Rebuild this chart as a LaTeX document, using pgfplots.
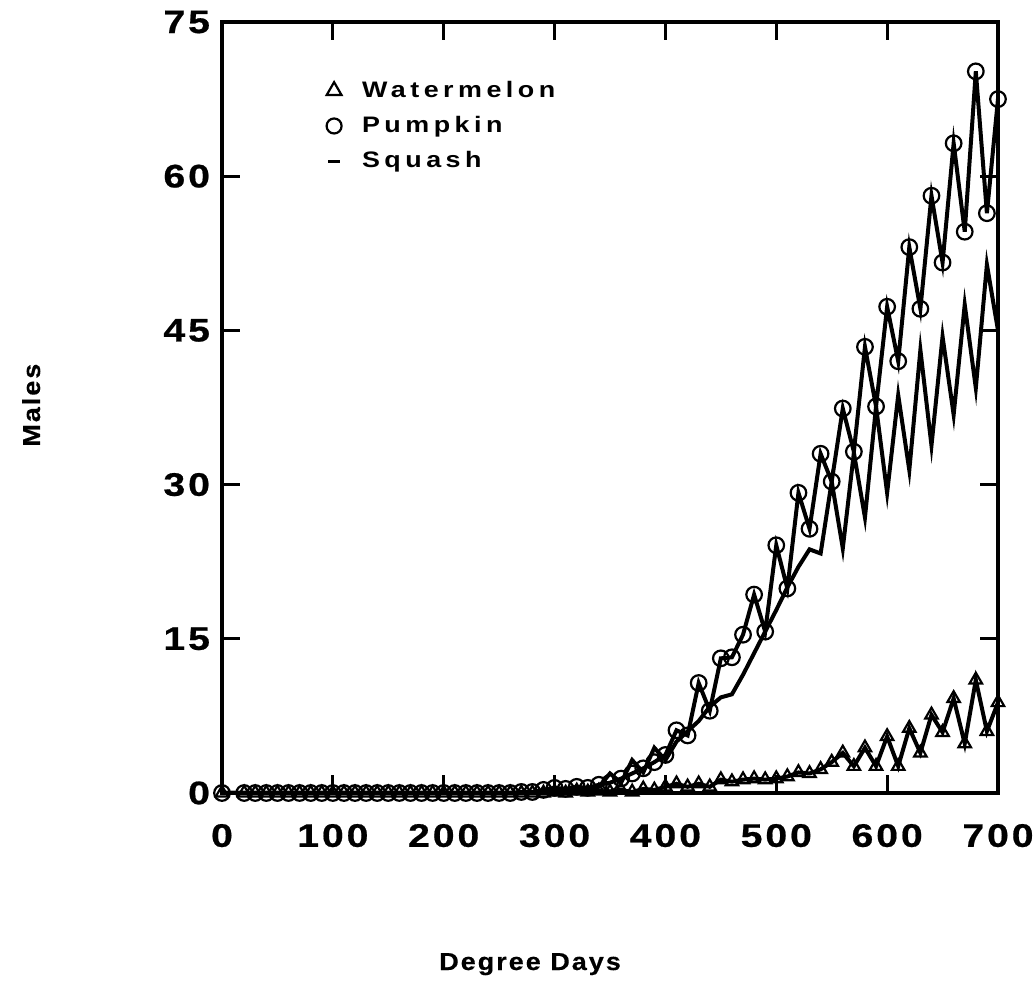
\documentclass[border=0pt]{standalone}
\usepackage{fontspec}
\usepackage{pgfplots}
\usepackage{pgfplotstable}
\pgfplotsset{compat=1.18}

% wide, spaced-out bold sans faces
\newfontfamily\tickfont{Liberation Sans}[FakeStretch=1.2,LetterSpace=9,FakeBold=0.6]
\newfontfamily\legfont{Liberation Sans}[FakeStretch=1.2,LetterSpace=20]
\newfontfamily\labfont{Liberation Sans}[FakeStretch=1.1,LetterSpace=8,FakeBold=0.4]

% degree days, males caught per host
\pgfplotstableread{
dd  wm    pk    sq
0   0     0     0
20  0     0     0
30  0     0     0
40  0     0     0
50  0     0     0
60  0     0     0
70  0     0     0
80  0     0     0
90  0     0     0
100 0     0     0
110 0     0     0
120 0     0     0
130 0     0     0
140 0     0     0
150 0     0     0
160 0     0     0
170 0     0     0
180 0     0     0
190 0     0     0
200 0     0     0
210 0     0     0
220 0     0     0
230 0     0     0
240 0     0     0
250 0     0     0
260 0     0     0
270 0     0.1   0
280 0     0.1   0
290 0     0.3   0.1
300 0.1   0.5   0.1
310 0.0   0.4   0.2
320 0.2   0.6   0.3
330 0.1   0.5   0.3
340 0.2   0.8   0.6
350 0.1   1.0   1.9
360 0.3   1.4   1.0
370 0.1   1.9   3.2
380 0.4   2.4   2.0
390 0.3   3.0   4.4
400 0.6   3.7   3.2
410 0.9   6.1   5.0
420 0.6   5.6   6.0
430 0.9   10.7  7.0
440 0.6   8.0   8.4
450 1.3   13.1  9.3
460 1.1   13.2  9.6
470 1.3   15.4  11.5
480 1.4   19.3  13.6
490 1.3   15.7  15.7
500 1.4   24.1  17.8
510 1.6   19.9  20.0
520 2.0   29.2  22.0
530 1.9   25.7  23.7
540 2.3   33.0  23.3
550 3.0   30.3  30.3
560 3.9   37.4  23.8
570 2.6   33.2  33.1
580 4.4   43.4  26.8
590 2.6   37.6  37.6
600 5.5   47.3  29.2
610 2.6   42.0  38.7
620 6.3   53.1  31.4
630 3.9   47.1  43.1
640 7.6   58.1  33.8
650 5.9   51.6  44.4
660 9.2   63.2  36.8
670 4.8   54.6  47.5
680 11.0  70.2  39.4
690 6.0   56.4  51.4
700 8.8   67.5  45.0
}\males

\begin{document}
\begin{tikzpicture}
\useasboundingbox (-111pt,-98.5pt) rectangle (406pt,396.5pt);
\begin{axis}[
  at={(0pt,0pt)}, anchor=south west,
  scale only axis,
  width=388pt, height=385.5pt,
  xmin=0, xmax=700, ymin=0, ymax=75,
  xtick={0,100,...,700},
  ytick={0,15,...,75},
  tick align=inside,
  major tick length=9pt,
  every tick/.style={black, line width=1.5pt},
  axis line style={line width=2.2pt},
  clip=false,
  /pgf/number format/assume math mode=true,
  xticklabel style={font=\tickfont\bfseries\fontsize{16.3}{19}\selectfont, yshift=-12pt},
  yticklabel style={font=\tickfont\bfseries\fontsize{16.3}{19}\selectfont, xshift=-2.5pt},
  xlabel={Degree Days},
  ylabel={Males},
  every axis x label/.style={at={(axis description cs:0.397,0)}, anchor=base, yshift=-88.5pt,
    font=\labfont\bfseries\fontsize{12.3}{14}\selectfont},
  every axis y label/.style={at={(axis description cs:0,0.503)}, xshift=-91pt, rotate=90, anchor=base,
    font=\labfont\bfseries\fontsize{12.3}{14}\selectfont},
  legend cell align=left,
  legend style={draw=none, fill=none, inner sep=0pt,
    at={(axis description cs:0.1285,0.929)}, anchor=north west,
    row sep=4pt,
    font=\legfont\bfseries\fontsize{11.2}{13}\selectfont},
]
\addplot[black, line width=2pt, mark=triangle, mark size=3.6pt,
  mark options={solid, line width=1.1pt},
  legend image code/.code={\path (0pt,0pt) (16pt,0pt);
    \draw[black, line width=0.9pt, mark=triangle, mark size=4.3pt] plot coordinates {(5pt,0pt)};}]
  table[x=dd, y=wm] {\males};
\addlegendentry{Watermelon}
\addplot[black, line width=2pt, mark=o, mark size=3.9pt,
  mark options={solid, line width=1.1pt},
  legend image code/.code={\path (0pt,0pt) (16pt,0pt);
    \draw[black, line width=0.9pt, mark=o, mark size=3.75pt] plot coordinates {(5pt,0pt)};}]
  table[x=dd, y=pk] {\males};
\addlegendentry{Pumpkin}
\addplot[black, line width=2pt, mark=none,
  legend image code/.code={\path (0pt,0pt) (16pt,0pt);
    \draw[black, line width=1.5pt] (2pt,0pt) -- (8pt,0pt);}]
  table[x=dd, y=sq] {\males};
\addlegendentry{Squash}
\end{axis}
\end{tikzpicture}
\end{document}
